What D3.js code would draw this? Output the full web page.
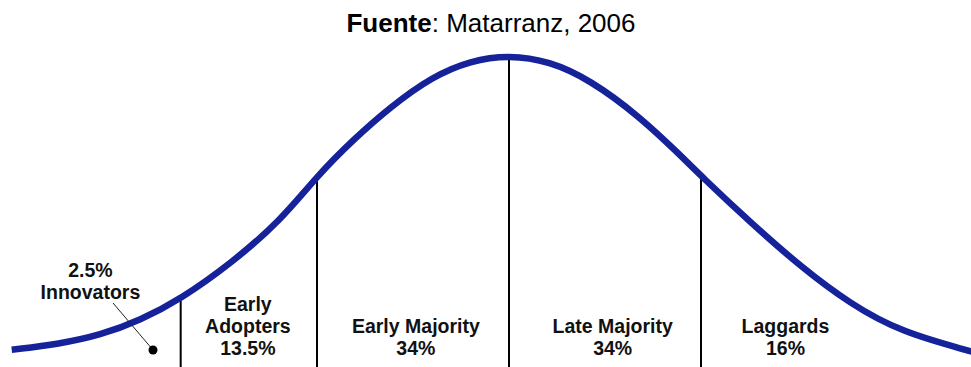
<!DOCTYPE html>
<html>
<head>
<meta charset="utf-8">
<script src="https://cdn.jsdelivr.net/npm/d3@7"></script>
<style>
  html, body { margin:0; padding:0; background:#fff; }
  svg { display:block; }
  text { font-family:"Liberation Sans", Arial, Helvetica, sans-serif; fill:#111; }
</style>
</head>
<body>
<div id="chart"></div>
<script>
// Bell curve: x in standard deviations, y in % of peak height.
var curve_z     = [-2.59, -2.34, -2.13, -1.92, -1.71, -1.45, -1.19, -1.00, -0.81, -0.62, -0.40, -0.20, 0.00, 0.21, 0.42, 0.68, 0.89, 1.00, 1.26, 1.52, 1.78, 2.04, 2.41];
var curve_value = [  4.0,   5.9,   8.7,  13.6,  20.5,  32.0,  46.0,  60.6,  72.5,  83.0,  93.0,  98.2, 100.0, 98.0, 92.0, 80.0, 67.5, 60.6, 45.3, 31.0, 18.8,  9.8,  3.4];

// Segment boundaries (in standard deviations).
var boundary_z  = [-1.71, -1, 0, 1];

// Category labels, one entry per segment, lines top to bottom.
var segment_names = ["Innovators", "Early Adopters", "Early Majority", "Late Majority", "Laggards"];
var segment_lines = [
  ["2.5%", "Innovators"],
  ["Early", "Adopters", "13.5%"],
  ["Early Majority", "34%"],
  ["Late Majority", "34%"],
  ["Laggards", "16%"]
];

var title_bold = "Fuente";
var title_rest = ": Matarranz, 2006";

// Layout.
var dimension = { width:971, height:367 };
var x = d3.scaleLinear().domain([-1, 1]).range([317, 701]);
var y = d3.scaleLinear().domain([0, 100]).range([362, 55]);

// Label centres in z units (the picture's labels sit a bit off the segment middles).
var label_center_z   = [-2.18, -1.36, -0.485, 0.54, 1.44];
var label_last_base  = 355;
var label_line_step  = 22;

var svg = d3.select("#chart").append("svg")
  .attr("width", dimension.width)
  .attr("height", dimension.height);

// Title.
var title = svg.append("text")
  .attr("x", 491)
  .attr("y", 32)
  .attr("text-anchor", "middle")
  .style("font-size", "26px")
  .style("fill", "#000");
title.append("tspan").style("font-weight", "bold").text(title_bold);
title.append("tspan").text(title_rest);

// Vertical boundary lines, from the curve down to the bottom edge.
boundary_z.forEach(function (bz) {
  var k = curve_z.indexOf(bz);
  svg.append("line")
    .attr("x1", x(bz)).attr("x2", x(bz))
    .attr("y1", y(curve_value[k]))
    .attr("y2", dimension.height)
    .style("stroke", "#000")
    .style("stroke-width", 2);
});

// Curve.
var points = curve_z.map(function (z, i) { return [z, curve_value[i]]; });
var line = d3.line()
  .x(function (d) { return x(d[0]); })
  .y(function (d) { return y(d[1]); })
  .curve(d3.curveBasis);

svg.append("path")
  .datum(points)
  .attr("d", line)
  .style("fill", "none")
  .style("stroke", "#15229a")
  .style("stroke-width", 6.5)
  .style("stroke-linecap", "butt");

// Innovators leader line and dot.
svg.append("line")
  .attr("x1", 113).attr("y1", 303)
  .attr("x2", 153).attr("y2", 350)
  .style("stroke", "#222")
  .style("stroke-width", 1);
svg.append("circle")
  .attr("cx", 153).attr("cy", 350).attr("r", 4.5)
  .style("fill", "#000");

// Labels.
segment_lines.forEach(function (lines, i) {
  var base = (i === 0) ? 299 : label_last_base;
  var t = svg.append("text")
    .attr("class", "segment_label")
    .attr("data-name", segment_names[i])
    .attr("text-anchor", "middle")
    .style("font-size", "19.5px")
    .style("font-weight", "bold");
  lines.forEach(function (s, j) {
    t.append("tspan")
      .attr("x", x(label_center_z[i]))
      .attr("y", base - (lines.length - 1 - j) * label_line_step)
      .text(s);
  });
});
</script>
</body>
</html>
